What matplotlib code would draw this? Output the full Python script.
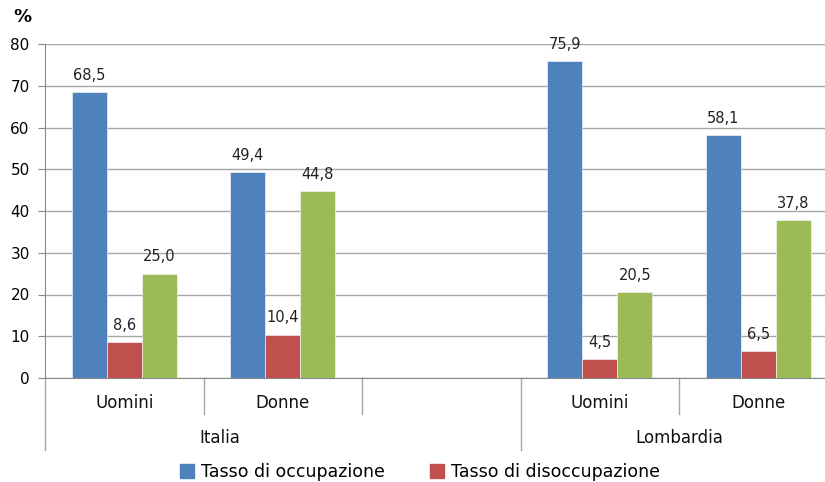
import numpy as np
import matplotlib
matplotlib.use("Agg")
import matplotlib.pyplot as plt
from matplotlib.patches import Patch

# slots: Italia Uomini, Italia Donne, (empty), Lombardia Uomini, Lombardia Donne
slot_labels = ["Uomini", "Donne", "", "Uomini", "Donne"]
groups = ["Italia", "Lombardia"]
occupazione = [68.5, 49.4, np.nan, 75.9, 58.1]
disoccupazione = [8.6, 10.4, np.nan, 4.5, 6.5]
inattivita = [25.0, 44.8, np.nan, 20.5, 37.8]
series_names = ["Tasso di occupazione", "Tasso di disoccupazione", "Tasso di inattività"]
colors = ["#4F81BD", "#C0504D", "#9BBB59"]

W, H = 825, 482
fig = plt.figure(figsize=(W / 100, H / 100), dpi=100)
# axes from x=45 to 837.5 px, y=44 to 378 px
ax = fig.add_axes([45 / W, 1 - 378 / H, 792.5 / W, 334 / H])

x = np.arange(len(slot_labels))
bw = 35 / 158.5
for i, (vals, c) in enumerate(zip([occupazione, disoccupazione, inattivita], colors)):
    pos = x + (i - 1) * bw
    ax.bar(pos, vals, width=bw, color=c, edgecolor="white", linewidth=0.4, zorder=3)
    for p, v in zip(pos, vals):
        if not np.isnan(v):
            ax.text(p, v + 2.2, f"{v:.1f}".replace(".", ","), ha="center", va="bottom",
                    fontsize=10.5, color="#222222")

ax.set_xlim(-0.5, len(slot_labels) - 0.5)
ax.set_ylim(0, 80)
ax.set_yticks(range(0, 81, 10))
ax.tick_params(axis="y", labelsize=11, length=5, color="#888888", pad=6)
ax.tick_params(axis="x", length=0, labelbottom=False)
ax.grid(axis="y", color="#A6A6A6", linewidth=1, zorder=0)
for s in ["top", "right"]:
    ax.spines[s].set_visible(False)
ax.spines["left"].set_color("#888888")
ax.spines["bottom"].set_color("#888888")

trans = ax.get_xaxis_transform()
# category labels and separators
for xi, lab in zip(x, slot_labels):
    if lab:
        ax.text(xi, -25 / 334, lab, transform=trans, ha="center", va="center",
                fontsize=12, color="#111111", clip_on=False)
for sep, long_line in [(-0.5, True), (0.5, False), (1.5, False), (2.5, True), (3.5, False)]:
    bottom = -72 / 334 if long_line else -36 / 334
    ax.plot([sep, sep], [0, bottom], transform=trans, color="#A6A6A6", lw=1, clip_on=False)
for gx, g in zip([0.6, 3.5], groups):
    ax.text(gx, -60 / 334, g, transform=trans, ha="center", va="center",
            fontsize=12, color="#111111", clip_on=False)

fig.text(22 / W, 1 - 17 / H, "%", ha="center", va="center", fontsize=13, fontweight="bold")

handles = [Patch(color=c) for c in colors[:2]]
fig.legend(handles, series_names[:2], loc="center", bbox_to_anchor=(420 / W, 1 - 472 / H),
           ncol=2, frameon=False, fontsize=12.5, handlelength=0.8, handleheight=0.8,
           columnspacing=2.6, handletextpad=0.4)

fig.savefig("out.png", dpi=100)
